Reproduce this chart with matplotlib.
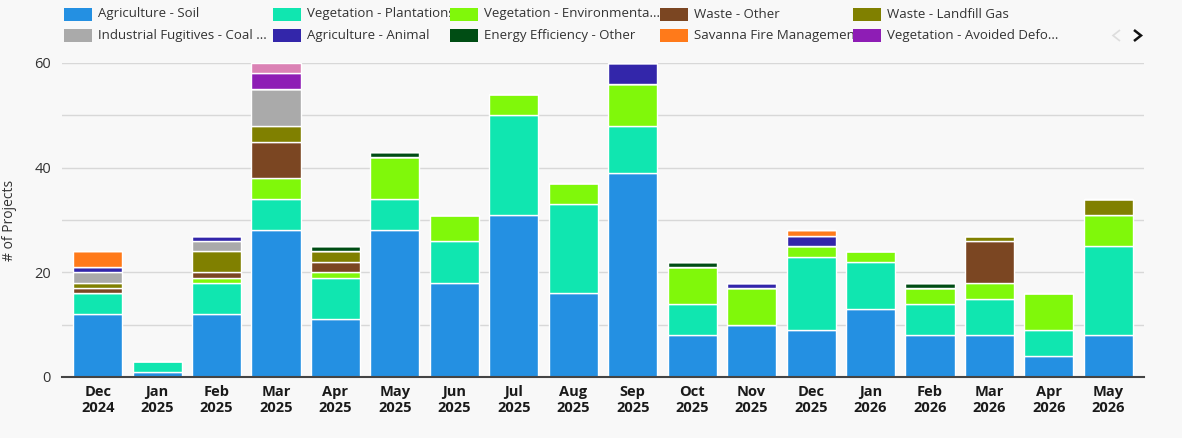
import matplotlib
matplotlib.use("Agg")
import matplotlib.pyplot as plt
from matplotlib.patches import Rectangle
from matplotlib.lines import Line2D
from matplotlib.ticker import MultipleLocator, FuncFormatter
import numpy as np

plt.rcParams['font.family'] = ['Open Sans', 'DejaVu Sans']

months = ["Dec\n2024", "Jan\n2025", "Feb\n2025", "Mar\n2025", "Apr\n2025", "May\n2025",
          "Jun\n2025", "Jul\n2025", "Aug\n2025", "Sep\n2025", "Oct\n2025", "Nov\n2025",
          "Dec\n2025", "Jan\n2026", "Feb\n2026", "Mar\n2026", "Apr\n2026", "May\n2026"]

agriculture_soil      = [12, 1, 12, 28, 11, 28, 18, 31, 16, 39, 8, 10, 9, 13, 8, 8, 4, 8]
vegetation_plantation = [4, 2, 6, 6, 8, 6, 8, 19, 17, 9, 6, 0, 14, 9, 6, 7, 5, 17]
vegetation_environ    = [0, 0, 1, 4, 1, 8, 5, 4, 4, 8, 7, 7, 2, 2, 3, 3, 7, 6]
waste_other           = [1, 0, 1, 7, 2, 0, 0, 0, 0, 0, 0, 0, 0, 0, 0, 8, 0, 0]
waste_landfill        = [1, 0, 4, 3, 2, 0, 0, 0, 0, 0, 0, 0, 0, 0, 0, 1, 0, 3]
industrial_coal       = [2, 0, 2, 7, 0, 0, 0, 0, 0, 0, 0, 0, 0, 0, 0, 0, 0, 0]
agriculture_animal    = [1, 0, 1, 0, 0, 0, 0, 0, 0, 4, 0, 1, 2, 0, 0, 0, 0, 0]
energy_efficiency     = [0, 0, 0, 0, 1, 1, 0, 0, 0, 0, 1, 0, 0, 0, 1, 0, 0, 0]
savanna_fire          = [3, 0, 0, 0, 0, 0, 0, 0, 0, 0, 0, 0, 1, 0, 0, 0, 0, 0]
avoided_defo          = [0, 0, 0, 3, 0, 0, 0, 0, 0, 0, 0, 0, 0, 0, 0, 0, 0, 0]
other_hidden          = [0, 0, 0, 2, 0, 0, 0, 0, 0, 0, 0, 0, 0, 0, 0, 0, 0, 0]

series = [
    ("Agriculture - Soil", agriculture_soil, "#2490e2"),
    ("Vegetation - Plantations", vegetation_plantation, "#10e6b0"),
    ("Vegetation - Environmenta...", vegetation_environ, "#80f80a"),
    ("Waste - Other", waste_other, "#7b4622"),
    ("Waste - Landfill Gas", waste_landfill, "#808000"),
    ("Industrial Fugitives - Coal ...", industrial_coal, "#aaaaaa"),
    ("Agriculture - Animal", agriculture_animal, "#3326aa"),
    ("Energy Efficiency - Other", energy_efficiency, "#004d14"),
    ("Savanna Fire Management", savanna_fire, "#ff7a1a"),
    ("Vegetation - Avoided Defo...", avoided_defo, "#8e1db5"),
    ("Other", other_hidden, "#db82b5"),
]

W, H = 1182, 438
bg = "#f8f8f8"
fig = plt.figure(figsize=(W / 100, H / 100), dpi=100, facecolor=bg)
ax = fig.add_axes([62 / W, (H - 377) / H, (1144 - 62) / W, (377 - 63) / H])
ax.set_facecolor(bg)

x = np.arange(len(months))
bottom = np.zeros(len(months))
for name, vals, col in series:
    v = np.array(vals, dtype=float)
    ax.bar(x, v, bottom=bottom, width=0.825, color=col, edgecolor="white",
           linewidth=1.0, zorder=3)
    bottom += v

ax.set_xlim(-0.6, len(months) - 0.4)
ax.set_ylim(0, 60)
ax.yaxis.set_major_locator(MultipleLocator(10))
ax.yaxis.set_major_formatter(FuncFormatter(lambda v, p: f"{int(v)}" if int(v) % 20 == 0 else ""))
ax.grid(axis="y", color="#d8d8d8", linewidth=1.0, zorder=0)
ax.set_axisbelow(True)
for s in ["top", "right", "left"]:
    ax.spines[s].set_visible(False)
ax.spines["bottom"].set_color("#444444")
ax.spines["bottom"].set_linewidth(1.5)
ax.spines["bottom"].set_zorder(5)

ax.set_xticks(x)
ax.set_xticklabels(months, fontsize=10.5, fontweight="bold", color="#1a1a1a", linespacing=1.12)
ax.tick_params(axis="x", length=0, pad=6)
ax.tick_params(axis="y", length=0, pad=8, labelsize=10.5, labelcolor="#333333")

ax.set_ylabel("# of Projects", fontsize=10, color="#333333")
ax.yaxis.set_label_coords((17 - 62) / (1144 - 62), 0.5)

# Legend (paged, first page shown)
hx = [64, 273, 450, 660, 853]
rows_y = [14, 35.5]
for i, (name, vals, col) in enumerate(series[:10]):
    r, c = divmod(i, 5)
    yc = rows_y[r]
    fig.text((hx[c] + 34) / W, 1 - yc / H, name, fontsize=9.5, color="#333333",
             ha="left", va="center", zorder=1)
    fig.add_artist(Rectangle((hx[c] / W, 1 - (yc + 6.5) / H), 28 / W, 13 / H,
                             transform=fig.transFigure, facecolor=col,
                             edgecolor="none", zorder=5))

# pager arrows
def chevron(xl, xr, yt, yb, color, lw):
    ym = (yt + yb) / 2
    fig.add_artist(Line2D([xl / W, xr / W, xl / W], [1 - yt / H, 1 - ym / H, 1 - yb / H],
                          transform=fig.transFigure, color=color, linewidth=lw,
                          solid_capstyle="butt", solid_joinstyle="miter"))

chevron(1120, 1113, 30, 41, "#dddddd", 1.2)
chevron(1134, 1141, 30, 41, "#111111", 1.8)

fig.savefig("out.png", dpi=100, facecolor=bg)
